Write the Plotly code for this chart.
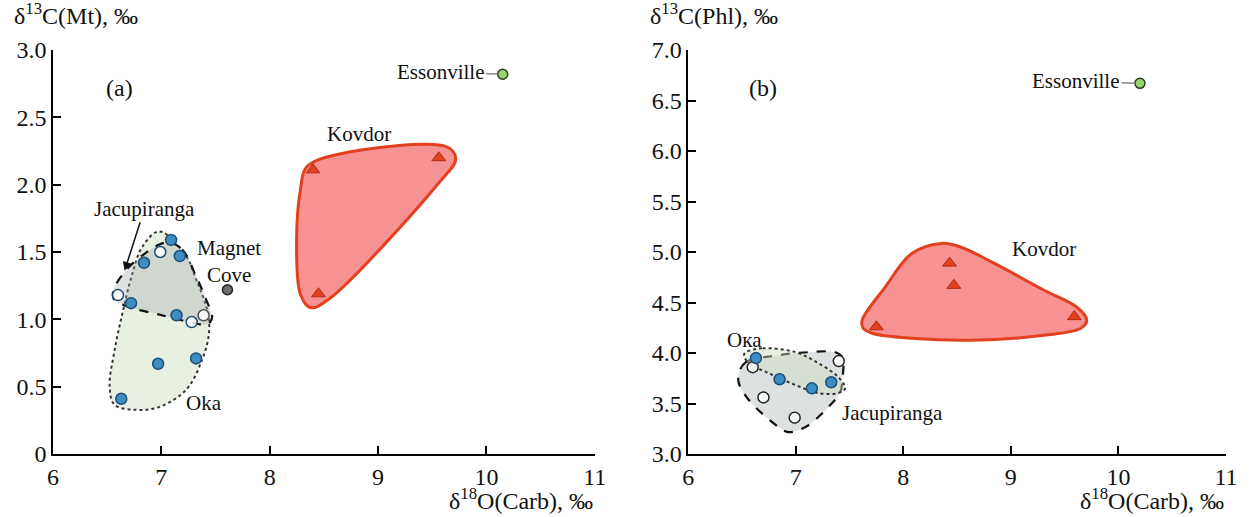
import plotly.graph_objects as go

# ---------------- data: panel (a) ----------------
ess_a_x, ess_a_y = [10.15], [2.82]
mc_a_x, mc_a_y = [7.61], [1.22]
kov_a_x = [8.40, 9.56, 8.45]
kov_a_y = [2.11, 2.20, 1.19]
fill_a_x = [7.09, 6.84, 7.17, 6.72, 7.14, 6.97, 7.32, 6.63]
fill_a_y = [1.59, 1.42, 1.47, 1.12, 1.03, 0.67, 0.71, 0.41]
open_a_x = [6.99, 6.60, 7.28]
open_a_y = [1.50, 1.18, 0.98]
opengray_a_x = [7.39]
opengray_a_y = [1.03]

kov_hull_a_x = [8.339, 8.633, 9.642, 9.716, 9.550, 8.541, 8.376, 8.284, 8.248, 8.284]
kov_hull_a_y = [2.130, 2.226, 2.278, 2.189, 2.003, 1.147, 1.087, 1.184, 1.593, 1.966]
oka_hull_a_x = [6.982, 7.229, 7.321, 7.422, 7.440, 7.376, 7.229, 6.982, 6.771, 6.569, 6.523, 6.569, 6.642, 6.725, 6.826]
oka_hull_a_y = [1.653, 1.467, 1.296, 1.072, 0.901, 0.700, 0.477, 0.350, 0.328, 0.365, 0.499, 0.774, 1.050, 1.318, 1.541]
jac_hull_a_x = [7.073, 7.193, 7.321, 7.413, 7.468, 7.422, 7.284, 6.982, 6.688, 6.560, 6.560, 6.679, 6.862, 6.982]
jac_hull_a_y = [1.571, 1.519, 1.318, 1.147, 1.013, 0.961, 0.975, 1.035, 1.095, 1.154, 1.221, 1.370, 1.497, 1.556]

# ---------------- data: panel (b) ----------------
ess_b_x, ess_b_y = [10.20], [6.67]
kov_b_x = [8.43, 8.47, 7.75, 9.59]
kov_b_y = [4.89, 4.67, 4.26, 4.36]
fill_b_x = [6.63, 6.85, 7.15, 7.33]
fill_b_y = [3.95, 3.74, 3.65, 3.71]
open_b_x = [6.60, 7.40, 6.70, 6.99]
open_b_y = [3.86, 3.92, 3.56, 3.36]

kov_hull_b_x = [7.617, 7.830, 8.079, 8.357, 8.542, 8.847, 9.309, 9.614, 9.706, 9.651, 9.309, 8.634, 8.079, 7.710, 7.627]
kov_hull_b_y = [4.324, 4.650, 4.986, 5.085, 5.045, 4.887, 4.621, 4.453, 4.324, 4.245, 4.176, 4.126, 4.146, 4.196, 4.245]
oka_hull_b_x = [6.536, 6.693, 6.998, 7.211, 7.396, 7.460, 7.396, 7.211, 6.998, 6.749, 6.564, 6.518]
oka_hull_b_y = [4.008, 4.047, 4.008, 3.899, 3.761, 3.652, 3.603, 3.603, 3.682, 3.800, 3.899, 3.978]
jac_hull_b_x = [6.471, 6.536, 6.841, 7.118, 7.368, 7.433, 7.433, 7.414, 7.303, 7.091, 6.933, 6.841, 6.564, 6.471]
jac_hull_b_y = [3.800, 3.909, 3.978, 4.008, 4.008, 3.958, 3.731, 3.613, 3.464, 3.267, 3.217, 3.267, 3.534, 3.702]

x_ticks = [6, 7, 8, 9, 10, 11]
ya_ticks = [0, 0.5, 1.0, 1.5, 2.0, 2.5, 3.0]
ya_text = ["0", "0.5", "1.0", "1.5", "2.0", "2.5", "3.0"]
yb_ticks = [3.0, 3.5, 4.0, 4.5, 5.0, 5.5, 6.0, 6.5, 7.0]
yb_text = ["3.0", "3.5", "4.0", "4.5", "5.0", "5.5", "6.0", "6.5", "7.0"]

FONT = "Liberation Serif, Times New Roman, serif"
BLUE = "#3f8cc0"
BLUE_EDGE = "#1d4f78"
RED = "#e2401e"
RED_EDGE = "#b02a10"

fig = go.Figure()


def closed(xs, ys):
    return list(xs) + [xs[0]], list(ys) + [ys[0]]


def hull(xs, ys, xa, ya, fillc, linec, width, dash):
    cx, cy = closed(xs, ys)
    fig.add_trace(go.Scatter(x=cx, y=cy, xaxis=xa, yaxis=ya, mode="lines",
                             fill="toself", fillcolor=fillc,
                             line=dict(color=linec, width=width, dash=dash, shape="spline", smoothing=1.0),
                             hoverinfo="skip", showlegend=False))


def pts(xs, ys, xa, ya, symbol, color, edge, size=11, lw=1.5):
    fig.add_trace(go.Scatter(x=xs, y=ys, xaxis=xa, yaxis=ya, mode="markers",
                             marker=dict(symbol=symbol, color=color, size=size,
                                         line=dict(color=edge, width=lw)),
                             showlegend=False))


OKA_FILL = "rgba(205,222,190,0.45)"
JAC_FILL = "rgba(160,168,172,0.35)"

# panel a
hull(oka_hull_a_x, oka_hull_a_y, "x", "y", OKA_FILL, "#333333", 2, "dot")
hull(jac_hull_a_x, jac_hull_a_y, "x", "y", JAC_FILL, "#111111", 2.2, "dash")
hull(kov_hull_a_x, kov_hull_a_y, "x", "y", "rgba(244,110,110,0.75)", RED, 3, "solid")
pts(kov_a_x, kov_a_y, "x", "y", "triangle-up", RED, RED_EDGE, 12, 1)
pts(fill_a_x, fill_a_y, "x", "y", "circle", BLUE, BLUE_EDGE)
pts(open_a_x, open_a_y, "x", "y", "circle", "rgba(255,255,255,0.85)", BLUE_EDGE)
pts(opengray_a_x, opengray_a_y, "x", "y", "circle", "rgba(255,255,255,0.85)", "#555555")
pts(mc_a_x, mc_a_y, "x", "y", "circle", "#6e6e6e", "#222222", 10)
pts(ess_a_x, ess_a_y, "x", "y", "circle", "#9ad46e", "#2b3a22", 10)

# panel b
hull(jac_hull_b_x, jac_hull_b_y, "x2", "y2", JAC_FILL, "#111111", 2.2, "dash")
hull(oka_hull_b_x, oka_hull_b_y, "x2", "y2", OKA_FILL, "#333333", 2, "dot")
hull(kov_hull_b_x, kov_hull_b_y, "x2", "y2", "rgba(244,110,110,0.75)", RED, 3, "solid")
pts(kov_b_x, kov_b_y, "x2", "y2", "triangle-up", RED, RED_EDGE, 12, 1)
pts(open_b_x, open_b_y, "x2", "y2", "circle", "rgba(255,255,255,0.85)", "#222222")
pts(fill_b_x, fill_b_y, "x2", "y2", "circle", BLUE, BLUE_EDGE)
pts(ess_b_x, ess_b_y, "x2", "y2", "circle", "#9ad46e", "#2b3a22", 10)

axis_common = dict(showline=True, linecolor="black", linewidth=1.5, ticks="inside",
                   ticklen=8, tickwidth=1.5, tickcolor="black", showgrid=False,
                   zeroline=False, tickfont=dict(family=FONT, size=24, color="#111"))

fig.update_layout(
    width=1250, height=517,
    margin=dict(l=53, r=17, t=50, b=63),
    paper_bgcolor="white", plot_bgcolor="white",
    font=dict(family=FONT, color="#111"),
    xaxis=dict(domain=[0, 0.4619], range=[6, 11], tickvals=x_ticks, anchor="y", **axis_common),
    yaxis=dict(domain=[0, 1], range=[0, 3], tickvals=ya_ticks, ticktext=ya_text, anchor="x", **axis_common),
    xaxis2=dict(domain=[0.5415, 1], range=[6, 11], tickvals=x_ticks, anchor="y2", **axis_common),
    yaxis2=dict(domain=[0, 1], range=[3, 7], tickvals=yb_ticks, ticktext=yb_text, anchor="x2", **axis_common),
)

TFONT = dict(family=FONT, size=24, color="#111")
LBL = dict(family=FONT, size=21, color="#111")
ann = []
# axis titles
ann.append(dict(text="δ<sup>13</sup>C(Mt), ‰", xref="paper", yref="paper", x=-0.035, y=1.089,
                xanchor="left", yanchor="middle", showarrow=False, font=TFONT))
ann.append(dict(text="δ<sup>13</sup>C(Phl), ‰", xref="paper", yref="paper", x=0.5076, y=1.089,
                xanchor="left", yanchor="middle", showarrow=False, font=TFONT))
ann.append(dict(text="δ<sup>18</sup>O(Carb), ‰", xref="paper", yref="paper", x=0.4619, y=-0.112,
                xanchor="right", yanchor="middle", showarrow=False, font=TFONT))
ann.append(dict(text="δ<sup>18</sup>O(Carb), ‰", xref="paper", yref="paper", x=1.0, y=-0.112,
                xanchor="right", yanchor="middle", showarrow=False, font=TFONT))
# panel a labels
ann.append(dict(text="(a)", xref="x", yref="y", x=6.61, y=2.72, showarrow=False, font=TFONT))
ann.append(dict(text="Kovdor", xref="x", yref="y", x=8.82, y=2.375, showarrow=False, font=LBL))
ann.append(dict(text="Magnet<br>Cove", xref="x", yref="y", x=7.62, y=1.43, showarrow=False, font=LBL))
ann.append(dict(text="Oka", xref="x", yref="y", x=7.39, y=0.38, showarrow=False, font=LBL))
ann.append(dict(text="Jacupiranga", xref="x", yref="y", x=6.66, y=1.36, ax=20, ay=-62,
                showarrow=True, arrowhead=2, arrowsize=1.2, arrowwidth=1.5, arrowcolor="#111", font=LBL))
ann.append(dict(text="Essonville", xref="x", yref="y", x=10.15, y=2.82, ax=-62, ay=-2,
                showarrow=True, arrowhead=0, arrowwidth=1.5, arrowcolor="#888", standoff=5, font=LBL))
# panel b labels
ann.append(dict(text="(b)", xref="x2", yref="y2", x=6.70, y=6.62, showarrow=False, font=TFONT))
ann.append(dict(text="Kovdor", xref="x2", yref="y2", x=9.31, y=5.03, showarrow=False, font=LBL))
ann.append(dict(text="Oкa", xref="x2", yref="y2", x=6.52, y=4.13, showarrow=False, font=LBL))
ann.append(dict(text="Jacupiranga", xref="x2", yref="y2", x=7.90, y=3.41, showarrow=False, font=LBL))
ann.append(dict(text="Essonville", xref="x2", yref="y2", x=10.20, y=6.67, ax=-64, ay=-2,
                showarrow=True, arrowhead=0, arrowwidth=1.5, arrowcolor="#888", standoff=5, font=LBL))
fig.update_layout(annotations=ann)

fig.write_html("out.html")
